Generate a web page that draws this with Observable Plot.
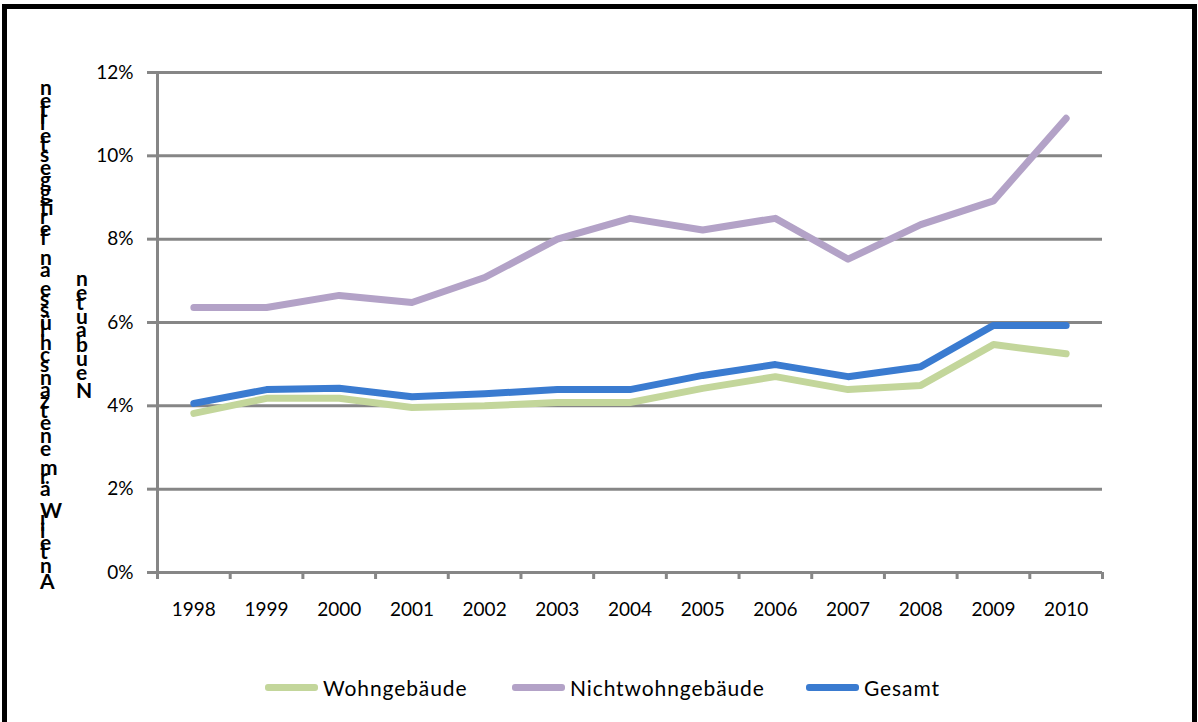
<!DOCTYPE html>
<html>
<head>
<meta charset="utf-8">
<script src="https://cdn.jsdelivr.net/npm/d3@7"></script>
<script src="https://cdn.jsdelivr.net/npm/@observablehq/plot@0.6"></script>
<style>
  html, body { margin: 0; padding: 0; background: #fff; }
  body { width: 1198px; height: 722px; overflow: hidden; position: relative; font-family: Lato, "Open Sans", sans-serif; }
  #frame { position: absolute; left: 2px; top: 4px; width: 1195px; height: 740px; border: 5px solid #000; box-sizing: border-box; }
  #chart { position: absolute; left: 0; top: 0; }
  #legend { position: absolute; top: 674px; left: 0; width: 1198px; height: 26px; }
  .item { position: absolute; top: 0; display: flex; align-items: center; height: 26px; font-size: 21px; color: #000; letter-spacing: 0.9px; }
  .sw { width: 53px; height: 7px; border-radius: 3px; margin-right: 5px; }
</style>
</head>
<body>
<div id="frame"></div>
<div id="chart"></div>
<div id="legend"></div>
<script>
const years = [1998, 1999, 2000, 2001, 2002, 2003, 2004, 2005, 2006, 2007, 2008, 2009, 2010];
const wohngebaeude = [3.82, 4.18, 4.18, 3.96, 4.00, 4.08, 4.08, 4.42, 4.70, 4.39, 4.49, 5.47, 5.25];
const nichtwohngebaeude = [6.36, 6.36, 6.65, 6.48, 7.08, 8.00, 8.50, 8.22, 8.50, 7.52, 8.35, 8.92, 10.90];
const gesamt = [4.06, 4.39, 4.42, 4.22, 4.29, 4.39, 4.39, 4.73, 4.99, 4.70, 4.94, 5.93, 5.93];
const yTicks = [0, 2, 4, 6, 8, 10, 12];
const seriesNames = ["Wohngebäude", "Nichtwohngebäude", "Gesamt"];
const seriesColors = ["#c3d69b", "#b3a2c7", "#3a7bd0"];
const yLabel1 = "Anteil Wärmenetzanschlüsse an fertiggestellten";
const yLabel2 = "Neubauten";

const seriesValues = [wohngebaeude, nichtwohngebaeude, gesamt];
const rows = seriesNames.flatMap((s, i) => years.map((y, j) => ({series: s, year: y, value: seriesValues[i][j]})));
const boundaries = [...years.map(y => y - 0.5), years[years.length - 1] + 0.5];

const gray = "#868686";
const plot = Plot.plot({
  width: 1198,
  height: 640,
  marginLeft: 157,
  marginRight: 96,
  marginTop: 72,
  marginBottom: 68,
  style: {fontFamily: "Lato, 'Open Sans', sans-serif", fontSize: "19px", color: "#000", background: "transparent"},
  x: {domain: [boundaries[0], boundaries[boundaries.length - 1]], axis: null},
  y: {domain: [0, 12], axis: null},
  color: {domain: seriesNames, range: seriesColors},
  marks: [
    Plot.gridY(yTicks, {stroke: gray, strokeOpacity: 1, strokeWidth: 3}),
    Plot.axisY(yTicks, {label: null, tickSize: 10, tickPadding: 14, stroke: gray, strokeWidth: 3, strokeOpacity: 1, tickFormat: d => d + "%", fill: "#000"}),
    Plot.ruleX([boundaries[0]], {stroke: gray, strokeWidth: 3}),
    Plot.axisX(boundaries, {label: null, tickSize: 7, stroke: gray, strokeWidth: 3, strokeOpacity: 1, tickFormat: () => ""}),
    Plot.axisX(years, {label: null, tickSize: 0, tickPadding: 30, tickFormat: d => String(d), fill: "#000"}),
    Plot.lineY(rows, {x: "year", y: "value", z: "series", stroke: "series", strokeWidth: 7, strokeLinejoin: "round", strokeLinecap: "round"})
  ]
});
document.getElementById("chart").appendChild(plot);

// Y axis label: upright stacked glyphs (rotated text with individually rotated glyphs)
const svg = d3.select(plot);
svg.append("text")
  .attr("transform", "translate(40,336) rotate(-90)")
  .attr("rotate", 90)
  .attr("text-anchor", "middle")
  .attr("font-weight", "bold")
  .attr("font-size", 21)
  .attr("textLength", 505)
  .attr("lengthAdjust", "spacing")
  .attr("fill", "#000")
  .text(yLabel1);
svg.append("text")
  .attr("transform", "translate(76,336) rotate(-90)")
  .attr("rotate", 90)
  .attr("text-anchor", "middle")
  .attr("font-weight", "bold")
  .attr("font-size", 21)
  .attr("textLength", 124)
  .attr("lengthAdjust", "spacing")
  .attr("fill", "#000")
  .text(yLabel2);

// Legend
const legend = document.getElementById("legend");
const lefts = [265, 512, 806];
seriesNames.forEach((name, i) => {
  const item = document.createElement("div");
  item.className = "item";
  item.style.left = lefts[i] + "px";
  const sw = document.createElement("div");
  sw.className = "sw";
  sw.style.background = seriesColors[i];
  const t = document.createElement("span");
  t.textContent = name;
  item.appendChild(sw);
  item.appendChild(t);
  legend.appendChild(item);
});
</script>
</body>
</html>
